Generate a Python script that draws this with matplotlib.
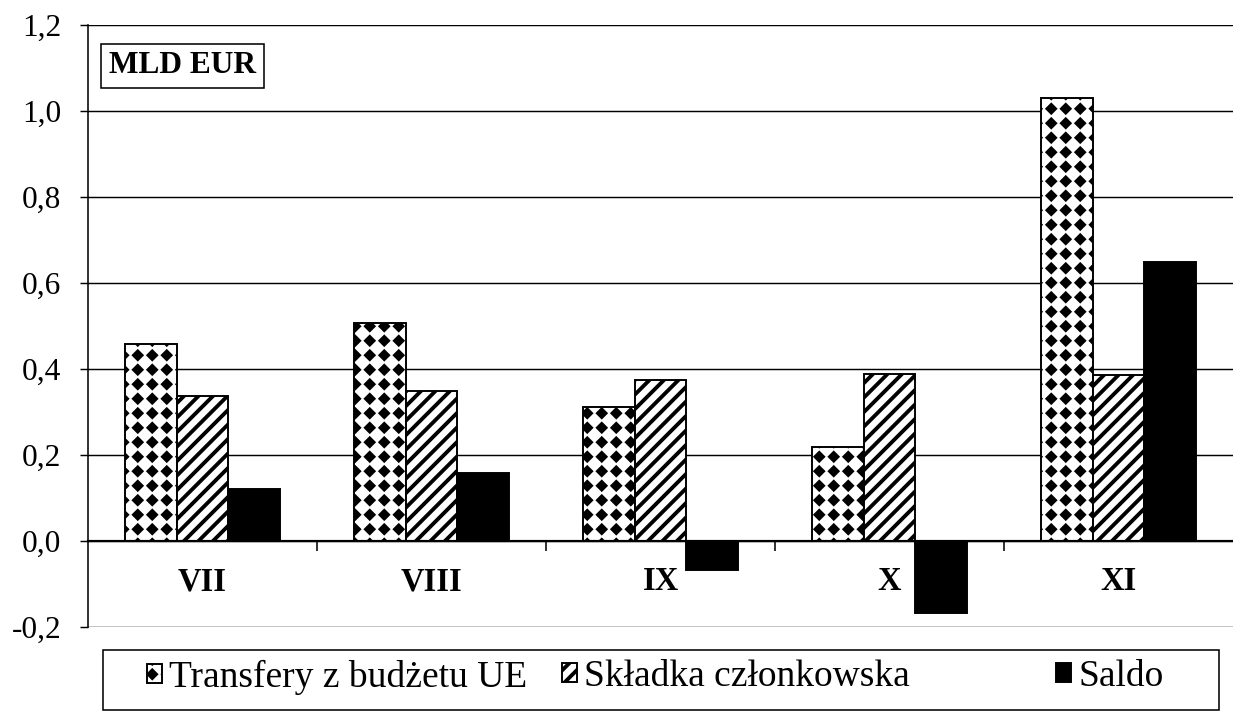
"""Monthly EU transfers vs. member contribution (MLD EUR), grouped bar chart."""

import numpy as np
import matplotlib
matplotlib.use("Agg")
import matplotlib.pyplot as plt
import matplotlib.hatch as mhatch
from matplotlib.path import Path
from matplotlib.patches import Rectangle

# ── data ─────────────────────────────────────────────────────────────────────
months = ["VII", "VIII", "IX", "X", "XI"]
transfery = [0.458, 0.507, 0.312, 0.219, 1.030]
skladka = [0.337, 0.349, 0.374, 0.388, 0.386]
saldo = [0.121, 0.158, -0.067, -0.167, 0.649]
series_names = ["Transfery z budżetu UE", "Składka członkowska", "Saldo"]
y_ticks = [-0.2, 0.0, 0.2, 0.4, 0.6, 0.8, 1.0, 1.2]
y_tick_labels = ["-0,2", "0,0", "0,2", "0,4", "0,6", "0,8", "1,0", "1,2"]
unit_label = "MLD EUR"


# ── custom hatch: square grid of filled diamonds (used for '*') ───────────────
class DiamondGrid(mhatch.HatchPatternBase):
    def __init__(self, hatch, density):
        self.num_rows = hatch.count("*") * density
        self.num_vertices = self.num_rows ** 2 * 5

    def set_vertices_and_codes(self, vertices, codes):
        n = self.num_rows
        r = 0.25 / n
        shape = np.array([[0, -r], [r, 0], [0, r], [-r, 0], [0, -r]])
        shape_codes = [Path.MOVETO, Path.LINETO, Path.LINETO, Path.LINETO, Path.CLOSEPOLY]
        verts, cds = [], []
        for i in range(n):
            for j in range(n):
                verts.append(shape + [(i + 0.5) / n, (j + 0.5) / n])
                cds.extend(shape_codes)
        vertices[:] = np.concatenate(verts)
        codes[:] = cds


mhatch._hatch_types = [h for h in mhatch._hatch_types if h is not mhatch.Stars]
mhatch._hatch_types.append(DiamondGrid)

DPI = 87
plt.rcParams["font.family"] = ["Liberation Serif", "DejaVu Serif"]
plt.rcParams["hatch.linewidth"] = 3.2
plt.rcParams["hatch.color"] = "black"

fig = plt.figure(figsize=(1233 / DPI, 712 / DPI), dpi=DPI)
ax = fig.add_axes([88 / 1233, 85 / 712, 1145 / 1233, 602 / 712])

x = np.arange(len(months))
w = 0.225
b1 = ax.bar(x - w, transfery, w, facecolor="white", edgecolor="black", linewidth=1.6,
            hatch="*", label=series_names[0], zorder=3)
b2 = ax.bar(x, skladka, w, facecolor="white", edgecolor="black", linewidth=1.6,
            hatch="//", label=series_names[1], zorder=3)
b3 = ax.bar(x + w, saldo, w, facecolor="black", edgecolor="black", linewidth=1.6,
            label=series_names[2], zorder=3)

ax.set_xlim(-0.5, len(months) - 0.5)
ax.set_ylim(y_ticks[0], y_ticks[-1])

# y axis
ax.set_yticks(y_ticks)
ax.set_yticklabels(y_tick_labels, fontsize=26)
ax.tick_params(axis="y", direction="out", length=7, width=1.2, pad=15, colors="black")
ax.yaxis.grid(True, color="black", linewidth=1.2, zorder=1)
ax.set_axisbelow(True)

# category axis crossing at zero
ax.spines["bottom"].set_position(("data", 0))
ax.spines["bottom"].set_linewidth(1.8)
ax.spines["bottom"].set_zorder(4)
ax.spines["left"].set_linewidth(1.3)
ax.spines["top"].set_visible(False)
ax.spines["right"].set_visible(False)
ax.set_xticks(x)
ax.set_xticklabels(months, fontsize=27, fontweight="bold")
ax.set_xticks(x[:-1] + 0.5, minor=True)
ax.tick_params(axis="x", which="major", length=0, pad=21)
ax.tick_params(axis="x", which="minor", direction="out", length=8, width=1.3)

# unit label box
ax.text(0.0183, 0.932, unit_label, transform=ax.transAxes, fontsize=26,
        fontweight="bold", ha="left", va="center", zorder=5,
        bbox=dict(boxstyle="square,pad=0.25", facecolor="white",
                  edgecolor="black", linewidth=1.3))

# legend: one frame, entries placed like the original (unequal gaps)
fig.patches.append(Rectangle((103 / 1233, 2 / 712), 1116 / 1233, 60 / 712,
                             transform=fig.transFigure, facecolor="none",
                             edgecolor="black", linewidth=1.3))
legend_x = [147, 562, 1056]
for bars, name, lx in zip([b1, b2, b3], series_names, legend_x):
    leg = fig.legend(handles=[bars], labels=[name], loc="center left",
                     bbox_to_anchor=(lx / 1233, 1 - 677 / 712), frameon=False,
                     fontsize=31, handlelength=0.4, handleheight=0.4,
                     handletextpad=0.2, borderpad=0, borderaxespad=0)

plt.savefig("out.png", dpi=DPI)
